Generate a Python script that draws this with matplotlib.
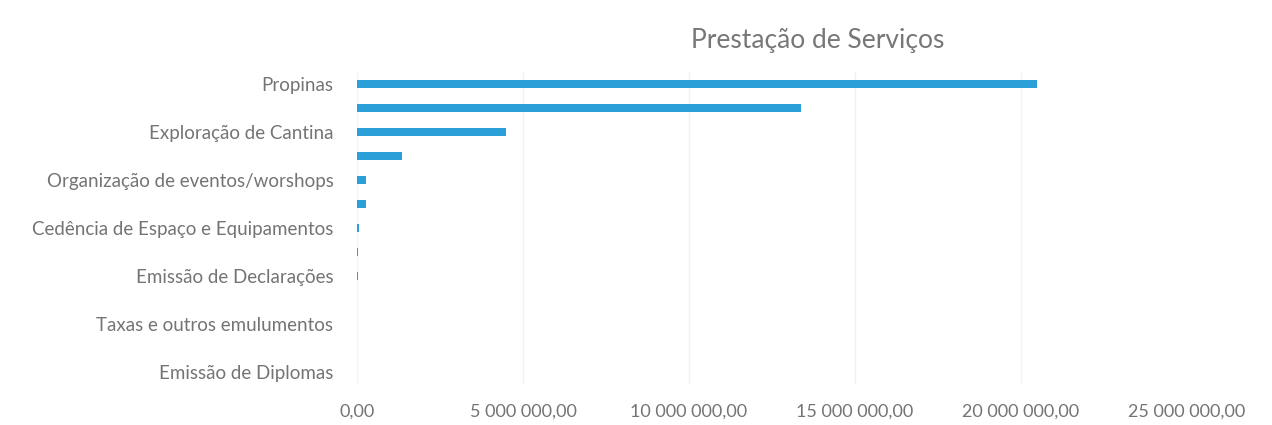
import matplotlib.pyplot as plt
from matplotlib.ticker import FuncFormatter

# categories, top to bottom (every other label is hidden in the original chart)
labels = ["Propinas", "", "Exploração de Cantina", "", "Organização de eventos/worshops", "",
          "Cedência de Espaço e Equipamentos", "", "Emissão de Declarações", "",
          "Taxas e outros emulumentos", "", "Emissão de Diplomas"]
values = [20480000, 13370000, 4500000, 1350000, 270000, 280000,
          70000, 40000, 30000, 0, 0, 0, 0]
xticks = [0, 5000000, 10000000, 15000000, 20000000, 25000000]

plt.rcParams['font.family'] = ['Lato', 'DejaVu Sans']
grey = '#747474'

fig = plt.figure(figsize=(12.72, 4.25), dpi=100)
ax = fig.add_axes([0.2807, 0.0965, 0.6525, 0.7341])

pos = list(range(len(labels)))
ax.barh(pos, values, height=0.34, color='#2b9fd8', zorder=3)
ax.set_ylim(len(labels) - 0.5, -0.5)
ax.set_xlim(0, 25000000)
ax.set_yticks(pos)
ax.set_yticklabels(labels)
ax.set_xticks(xticks)

def fmt(v, p):
    s = f"{v:,.2f}".replace(",", " ").replace(".", ",")
    return s
ax.xaxis.set_major_formatter(FuncFormatter(fmt))

ax.tick_params(axis='y', length=0, pad=17, labelsize=13.5, labelcolor=grey)
ax.tick_params(axis='x', length=0, pad=14, labelsize=13, labelcolor=grey)
ax.grid(axis='x', color='#f2f2f2', linewidth=1, zorder=0)
for s in ax.spines.values():
    s.set_visible(False)

fig.text(0.643, 0.905, "Prestação de Serviços", ha='center', va='center',
         fontsize=19, color='#777777')

fig.savefig("out.png", dpi=100, facecolor='white')
